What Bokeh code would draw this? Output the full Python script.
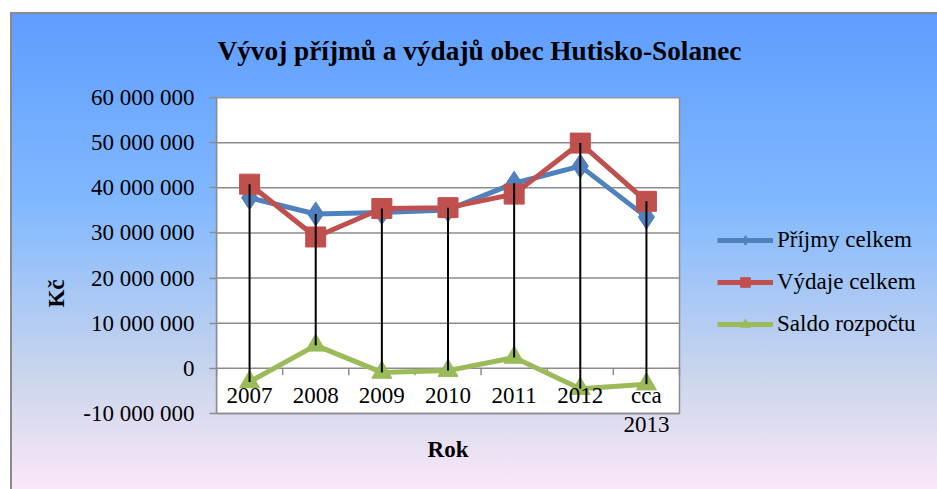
from bokeh.plotting import figure
from bokeh.models import (Range1d, FixedTicker, CustomJSTickFormatter,
                          LabelSet, Label, ColumnDataSource, Legend, LegendItem)
from bokeh.embed import file_html
from bokeh.resources import INLINE

# ---- data ----
categories = ["2007", "2008", "2009", "2010", "2011", "2012", "cca\n2013"]
prijmy = [37.8e6, 34.2e6, 34.5e6, 35.1e6, 41.0e6, 44.8e6, 33.5e6]
vydaje = [40.8e6, 29.1e6, 35.4e6, 35.6e6, 38.6e6, 49.9e6, 37.0e6]
saldo = [-3.0e6, 5.1e6, -0.9e6, -0.5e6, 2.4e6, -4.5e6, -3.5e6]
y_ticks = [-10e6, 0, 10e6, 20e6, 30e6, 40e6, 50e6, 60e6]
series_names = ["Příjmy celkem", "Výdaje celkem", "Saldo rozpočtu"]
title_text = "Vývoj příjmů a výdajů obec Hutisko-Solanec"
x_title = "Rok"
y_title = "Kč"

FONT = "Liberation Serif"
BLUE, RED, GREEN = "#4F81BD", "#C0504D", "#9BBB59"
GRID = "#8c8c8c"

# ---- layout (pixels) ----
W, H = 937, 489
LEFT, TOP = 216, 97
AREA_W, AREA_H = 463, 316          # white plot area
FRAME_W, FRAME_H = W - LEFT, H - TOP

n = len(categories)
idx = list(range(n))
ymin, ymax = y_ticks[0], y_ticks[-1]
x_end = -0.5 + FRAME_W / AREA_W * n
y_start = ymax - FRAME_H / AREA_H * (ymax - ymin)

p = figure(width=W, height=H, output_backend="svg", toolbar_location=None,
           x_range=Range1d(-0.5, x_end), y_range=Range1d(y_start, ymax),
           x_axis_location=None)
p.min_border_left = LEFT
p.min_border_right = 0
p.min_border_top = TOP
p.min_border_bottom = 0
p.border_fill_color = None
p.background_fill_color = None
p.outline_line_color = None
p.xgrid.visible = False
p.ygrid.visible = False
p.styles = {
    "background": (
        "linear-gradient(#ffffff,#ffffff) 0px 0px / 10px 100% no-repeat, "
        "linear-gradient(#8a8a8a,#8a8a8a) 10px 12px / 2px calc(100% - 12px) no-repeat, "
        "linear-gradient(#8a8a8a,#8a8a8a) 10px 12px / calc(100% - 10px) 2px no-repeat, "
        "linear-gradient(to bottom, #ffffff 0px, #ffffff 12px, #5e9dff 12px, "
        "#80b8ff 41%, #cdd6ec 78%, #fbe7f8 100%)"
    )
}

# title
p.title.text = title_text
p.title.align = "left"
p.title.offset = 1
p.title.text_font = FONT
p.title.text_font_size = "27.3px"
p.title.text_font_style = "bold"
p.title.text_color = "black"
p.title.standoff = 64

# plot area
p.quad(left=[-0.5], right=[n - 0.5], bottom=[ymin], top=[ymax],
       fill_color="white", line_color=GRID, line_width=1.5)
p.segment(x0=[-0.5] * len(y_ticks), y0=y_ticks, x1=[n - 0.5] * len(y_ticks), y1=y_ticks,
          line_color=GRID, line_width=1.5)

# y axis
ax = p.yaxis[0]
ax.bounds = (ymin, ymax)
ax.ticker = FixedTicker(ticks=y_ticks)
ax.formatter = CustomJSTickFormatter(
    code="return Math.round(tick).toString().replace(/\\B(?=(\\d{3})+(?!\\d))/g, ' ');")
ax.axis_line_color = GRID
ax.axis_line_width = 1.5
ax.major_tick_line_color = GRID
ax.major_tick_line_width = 1.5
ax.major_tick_out = 7
ax.major_tick_in = 0
ax.minor_tick_line_color = None
ax.major_label_text_font = FONT
ax.major_label_text_font_size = "23px"
ax.major_label_text_color = "black"
ax.major_label_standoff = 15
ax.axis_label = y_title
ax.axis_label_text_font = FONT
ax.axis_label_text_font_size = "23px"
ax.axis_label_text_font_style = "bold"
ax.axis_label_text_color = "black"
ax.axis_label_standoff = 11

# category axis at zero
bounds = [i - 0.5 for i in range(n + 1)]
p.segment(x0=bounds, y0=[0] * len(bounds), x1=bounds, y1=[-1.5e6] * len(bounds),
          line_color=GRID, line_width=1.5)

line1 = [c.split("\n")[0] for c in categories]
src1 = ColumnDataSource(dict(x=idx, y=[0] * n, t=line1))
p.add_layout(LabelSet(x="x", y="y", text="t", source=src1, y_offset=-35,
                      text_align="center", text_baseline="alphabetic",
                      text_font=FONT, text_font_size="23px", text_color="black"))
l2x = [i for i, c in zip(idx, categories) if "\n" in c]
l2t = [c.split("\n")[1] for c in categories if "\n" in c]
src2 = ColumnDataSource(dict(x=l2x, y=[0] * len(l2x), t=l2t))
p.add_layout(LabelSet(x="x", y="y", text="t", source=src2, y_offset=-64,
                      text_align="center", text_baseline="alphabetic",
                      text_font=FONT, text_font_size="23px", text_color="black"))

# x title
p.add_layout(Label(x=AREA_W / 2, y=40, x_units="screen", y_units="screen", text=x_title,
                   text_align="center", text_baseline="alphabetic", text_font=FONT,
                   text_font_size="23px", text_font_style="bold", text_color="black"))

# series
items = []
for vals, col, marker, size, name in [
        (prijmy, BLUE, "diamond", 24, series_names[0]),
        (vydaje, RED, "square", 20, series_names[1]),
        (saldo, GREEN, "triangle", 20, series_names[2])]:
    lr = p.line(idx, vals, line_color=col, line_width=5, line_join="round")
    sr = p.scatter(idx, vals, marker=marker, size=size, fill_color=col, line_color=col)
    items.append(LegendItem(label=name, renderers=[lr, sr]))

# zero (category) axis line
p.segment(x0=[-0.5], y0=[0], x1=[n - 0.5], y1=[0], line_color=GRID, line_width=1.5,
          level="underlay")

# high-low lines
hi = [max(a, b, c) for a, b, c in zip(prijmy, vydaje, saldo)]
lo = [min(a, b, c) for a, b, c in zip(prijmy, vydaje, saldo)]
p.segment(x0=idx, y0=hi, x1=idx, y1=lo, line_color="black", line_width=2)

legend = Legend(items=items, location=(501, 152), padding=0, margin=0,
                background_fill_alpha=0, border_line_alpha=0,
                label_text_font=FONT, label_text_font_size="23px",
                label_text_color="black",
                glyph_width=56, glyph_height=24, label_height=24,
                label_standoff=4, spacing=16)
p.add_layout(legend)

open("out.html", "w").write(file_html(p, INLINE))
